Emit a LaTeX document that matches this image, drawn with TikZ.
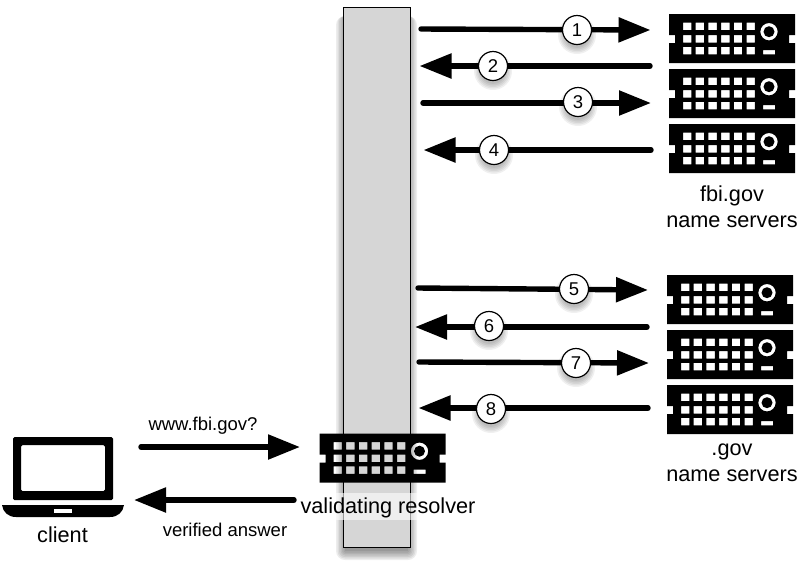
\documentclass[tikz,border=0pt]{standalone}
\usepackage{fontspec}
\setmainfont{Liberation Sans}
\usetikzlibrary{arrows.meta}
\tikzset{
  x=1pt,y=-1pt,
  flow/.style={line width=5.4pt,line cap=round,-{Triangle[length=32pt,width=24pt]}},
  numc/.style={circle,draw=black,line width=1.2pt,fill=white,minimum size=29pt,inner sep=0pt,font=\fontsize{18.5}{18.5}\selectfont},
  big/.style={font=\fontsize{21.7}{26}\selectfont,align=center,inner sep=0pt},
  small/.style={font=\fontsize{18.5}{22}\selectfont,inner sep=0pt},
  servernode/.style={minimum width=126pt,minimum height=49pt,inner sep=0pt,outer sep=0pt},
  barbox/.style={minimum width=67pt,minimum height=540pt,inner sep=0pt,outer sep=0pt,draw=black,line width=1pt,fill=black!16},
}
\newcommand{\serverbox}[3]{%
  \node[servernode] (#1) at (#2,#3) {};
  \begin{scope}[shift={(#1.north west)}]
    \fill[black,even odd rule] (0,0)--(126,0)--(126,21)--(120,21)--(120,29)--(126,29)--(126,49)--(0,49)--(0,29)--(6,29)--(6,21)--(0,21)--cycle
      \foreach \cx in {14,26.7,39.4,52.1,64.8,77.5}{
        (\cx,8.7) rectangle ++(8.4,7.5)
        (\cx,21) rectangle ++(8.4,7.5)
        (\cx,32.8) rectangle ++(8.4,7.5)
      }
      (100,17.7) circle[radius=8.7]
      (100,17.7) circle[radius=5.5]
      (94,36) rectangle (106,40.3);
  \end{scope}}
\newcommand{\stepnum}[4]{% name, x, y, label
  \foreach \r in {0,1.5,...,7}{\fill[black,opacity=.06] (#2,#3+5) circle[radius=13+\r];}
  \node[numc] (#1) at (#2,#3) {#4};}
\begin{document}
\begin{tikzpicture}
\useasboundingbox (0,0) rectangle (798,566);
% bar with soft shadow
\foreach \r in {0,1.5,...,9}{\fill[black,opacity=.07,rounded corners=\r] (343-\r+2,16) rectangle (410+\r-2,551+\r);}
\node[barbox] (bar) at (376.5,277) {};
% servers
\serverbox{f1}{732}{38.5}
\serverbox{f2}{732}{93.5}
\serverbox{f3}{732}{148.5}
\serverbox{g1}{730}{299.5}
\serverbox{g2}{730}{354.5}
\serverbox{g3}{730}{409.5}
\serverbox{res}{382.5}{458}
% free ends
\coordinate (a1) at (421,29);  \coordinate (b1) at (650.5,30);
\coordinate (a2) at (650,66);  \coordinate (b2) at (419.5,66);
\coordinate (a3) at (423,103); \coordinate (b3) at (651,103);
\coordinate (a4) at (651,150); \coordinate (b4) at (423.5,150);
\coordinate (a5) at (418,288); \coordinate (b5) at (648,290);
\coordinate (a6) at (647,327); \coordinate (b6) at (415,327);
\coordinate (a7) at (419,362); \coordinate (b7) at (649,363);
\coordinate (a8) at (648,408); \coordinate (b8) at (418.5,408);
\coordinate (c1) at (141,447); \coordinate (d1) at (300,447);
\coordinate (c2) at (294,500); \coordinate (d2) at (134,500);
\foreach \i in {1,...,8}{\draw[flow] (a\i) -- (b\i);}
\draw[flow] (c1) -- (d1);
\draw[flow] (c2) -- (d2);
% numbered circles
\stepnum{n1}{577}{30}{1}
\stepnum{n2}{493}{66}{2}
\stepnum{n3}{578}{102}{3}
\stepnum{n4}{494}{150}{4}
\stepnum{n5}{574}{289}{5}
\stepnum{n6}{489}{326}{6}
\stepnum{n7}{576}{363}{7}
\stepnum{n8}{491}{409}{8}
% labels
\node[big] (fbi) at (732,206.5) {fbi.gov\\name servers};
\node[big] (gov) at (732,463) {.gov\\name servers};
\node[small] (q) at (203,426) {www.fbi.gov?};
\node[small] (a) at (225,530) {verified answer};
\fill[white,opacity=.6] (300,493) rectangle (476,520);
\node[big] (vr) at (388,508) {validating resolver};
\node[big] (cl) at (62.5,535) {client};
% laptop
\node[minimum width=100pt,minimum height=63pt,inner sep=0pt,outer sep=0pt] (lap) at (63,468.5) {};
\fill[black,even odd rule,rounded corners=1.5pt] (lap.north west) rectangle (lap.south east)
  (21,445) rectangle (105,491);
\fill[black] (2,505) -- (124,505) .. controls (123,512) and (118,517) .. (110,517) -- (16,517) .. controls (8,517) and (3,512) .. (2,505) -- cycle;
\fill[white] (54,509) rectangle (72,513);
\end{tikzpicture}
\end{document}
